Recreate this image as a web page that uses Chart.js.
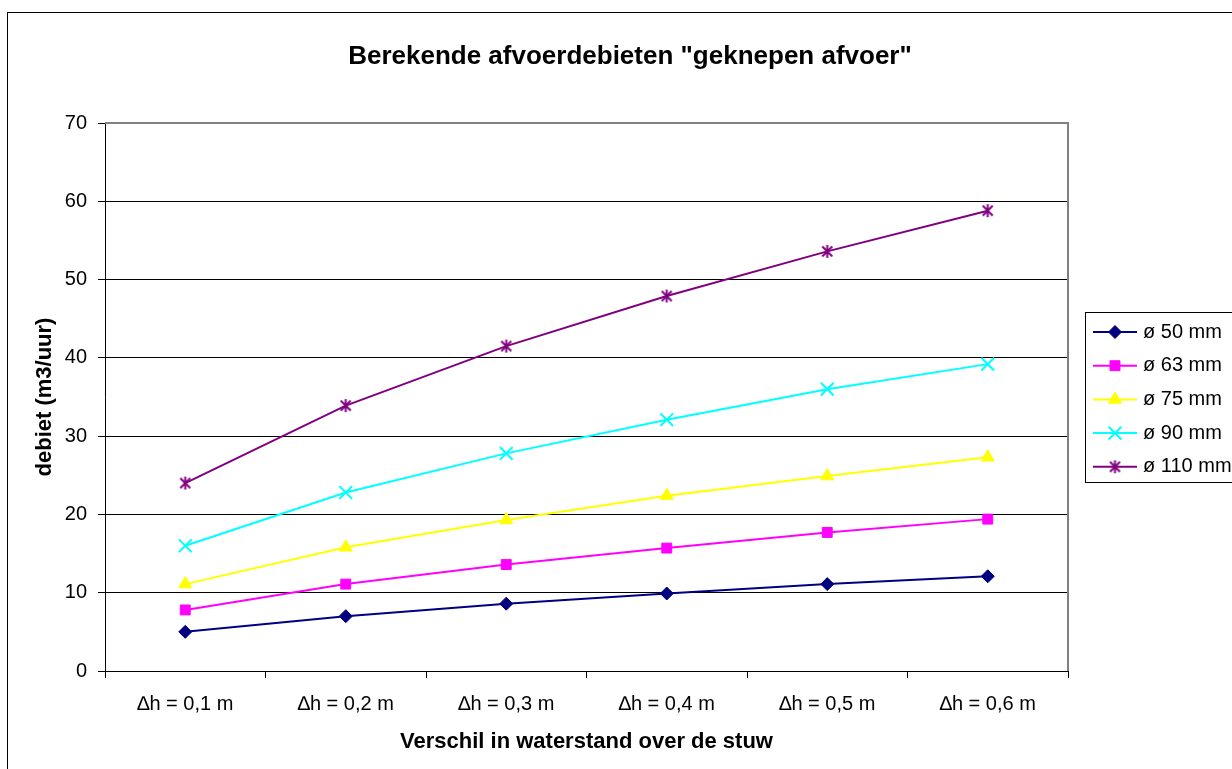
<!DOCTYPE html>
<html>
<head>
<meta charset="utf-8">
<title>Berekende afvoerdebieten "geknepen afvoer"</title>
<script src="https://cdn.jsdelivr.net/npm/chart.js"></script>
<style>
body { margin: 0; background: #fff; }
</style>
</head>
<body>
<canvas id="grafiek" width="1232" height="769"></canvas>

<script>
// waarden (m3/uur)
const categorieen = ['\u2206h = 0,1 m', '\u2206h = 0,2 m', '\u2206h = 0,3 m', '\u2206h = 0,4 m', '\u2206h = 0,5 m', '\u2206h = 0,6 m'];
const reeksNamen = ['ø 50 mm', 'ø 63 mm', 'ø 75 mm', 'ø 90 mm', 'ø 110 mm'];
const d50  = [5.0, 7.0, 8.6, 9.9, 11.1, 12.1];
const d63  = [7.8, 11.1, 13.6, 15.7, 17.7, 19.4];
const d75  = [11.1, 15.8, 19.3, 22.4, 24.9, 27.3];
const d90  = [16.0, 22.8, 27.8, 32.1, 36.0, 39.2];
const d110 = [24.0, 33.9, 41.5, 47.9, 53.6, 58.8];

const lettertype = "'Liberation Sans', Arial, sans-serif";

// sterretje zoals in Excel (x met verticale streep)
function sterretje(kleur) {
  const c = document.createElement('canvas');
  c.width = 15; c.height = 15;
  const g = c.getContext('2d');
  g.strokeStyle = kleur;
  g.lineWidth = 2;
  g.beginPath();
  g.moveTo(2.5, 2.5); g.lineTo(12.5, 12.5);
  g.moveTo(12.5, 2.5); g.lineTo(2.5, 12.5);
  g.moveTo(7.5, 1); g.lineTo(7.5, 14);
  g.stroke();
  return c;
}

function reeks(naam, waarden, kleur, stijl, straal) {
  return {
    label: naam,
    data: waarden,
    borderColor: kleur,
    backgroundColor: kleur,
    borderWidth: 2,
    pointStyle: stijl,
    pointRadius: straal,
    pointHoverRadius: straal,
    pointBorderWidth: stijl === 'crossRot' ? 2 : 1,
    tension: 0
  };
}

// titel, kader rond de grafiek en rand van het tekengebied
const kaderPlugin = {
  id: 'kader',
  beforeDraw(chart) {
    const ctx = chart.ctx;
    ctx.save();
    ctx.fillStyle = '#fff';
    ctx.fillRect(0, 0, chart.width, chart.height);
    ctx.strokeStyle = '#000';
    ctx.lineWidth = 1;
    ctx.strokeRect(7.5, 12.5, 1400, 900);
    ctx.restore();
  },
  afterDraw(chart) {
    const ctx = chart.ctx;
    const a = chart.chartArea;
    ctx.save();
    ctx.strokeStyle = '#808080';
    ctx.lineWidth = 2;
    ctx.beginPath();
    ctx.moveTo(a.left, a.top);
    ctx.lineTo(a.right, a.top);
    ctx.lineTo(a.right, a.bottom);
    ctx.stroke();

    ctx.fillStyle = '#000';
    ctx.font = 'bold 26px ' + lettertype;
    ctx.textAlign = 'center';
    ctx.textBaseline = 'middle';
    ctx.fillText('Berekende afvoerdebieten "geknepen afvoer"', 630, 57);
    ctx.restore();
  }
};

// legenda rechts, half buiten beeld zoals in het origineel
const legendaPlugin = {
  id: 'legenda',
  afterDraw(chart) {
    const ctx = chart.ctx;
    ctx.save();
    ctx.fillStyle = '#fff';
    ctx.fillRect(1085, 312, 200, 170);
    ctx.strokeStyle = '#000';
    ctx.lineWidth = 1;
    ctx.strokeRect(1085.5, 312.5, 200, 170);
    chart.data.datasets.forEach((ds, i) => {
      const y = 332 + i * 33.7;
      ctx.strokeStyle = ds.borderColor;
      ctx.lineWidth = 2;
      ctx.beginPath();
      ctx.moveTo(1093, y);
      ctx.lineTo(1137, y);
      ctx.stroke();
      ctx.fillStyle = ds.backgroundColor;
      ctx.lineWidth = ds.pointBorderWidth;
      Chart.helpers.drawPoint(ctx, {
        pointStyle: ds.pointStyle,
        radius: ds.pointRadius,
        borderWidth: ds.pointBorderWidth,
        rotation: 0
      }, 1115, y);
      ctx.fillStyle = '#000';
      ctx.font = '20px ' + lettertype;
      ctx.textAlign = 'left';
      ctx.textBaseline = 'middle';
      ctx.fillText(ds.label, 1143, y);
    });
    ctx.restore();
  }
};

new Chart(document.getElementById('grafiek'), {
  type: 'line',
  data: {
    labels: categorieen,
    datasets: [
      reeks(reeksNamen[0], d50, '#000080', 'rectRot', 6.5),
      reeks(reeksNamen[1], d63, '#FF00FF', 'rect', 7),
      reeks(reeksNamen[2], d75, '#FFFF00', 'triangle', 7.5),
      reeks(reeksNamen[3], d90, '#00FFFF', 'crossRot', 9),
      reeks(reeksNamen[4], d110, '#800080', sterretje('#800080'), 7.5)
    ]
  },
  options: {
    responsive: false,
    animation: false,
    layout: { padding: { left: 0, right: 164, top: 123, bottom: 0 } },
    plugins: {
      legend: { display: false },
      title: { display: false },
      tooltip: { enabled: false }
    },
    scales: {
      x: {
        offset: true,
        grid: { offset: true, drawOnChartArea: false, drawTicks: true, tickLength: 7, tickColor: '#000' },
        border: { color: '#000', width: 1 },
        ticks: { color: '#000', font: { family: lettertype, size: 20 }, padding: 14, maxRotation: 0, autoSkip: false },
        title: {
          display: true,
          text: 'Verschil in waterstand over de stuw',
          color: '#000',
          font: { family: lettertype, size: 22, weight: 'bold' },
          padding: { top: 0, bottom: 14 }
        },
        afterFit(s) { s.height = 98; }
      },
      y: {
        min: 0,
        max: 70,
        ticks: { stepSize: 10, color: '#000', font: { family: lettertype, size: 20 }, padding: 11 },
        grid: { color: '#000', lineWidth: 1, tickLength: 7, tickColor: '#000' },
        border: { color: '#000', width: 1 },
        title: {
          display: true,
          text: 'debiet (m3/uur)',
          color: '#000',
          font: { family: lettertype, size: 22, weight: 'bold' },
          padding: { top: 32, bottom: 0 }
        },
        afterFit(s) { s.width = 105; }
      }
    }
  },
  plugins: [kaderPlugin, legendaPlugin]
});
</script>

</body>
</html>
